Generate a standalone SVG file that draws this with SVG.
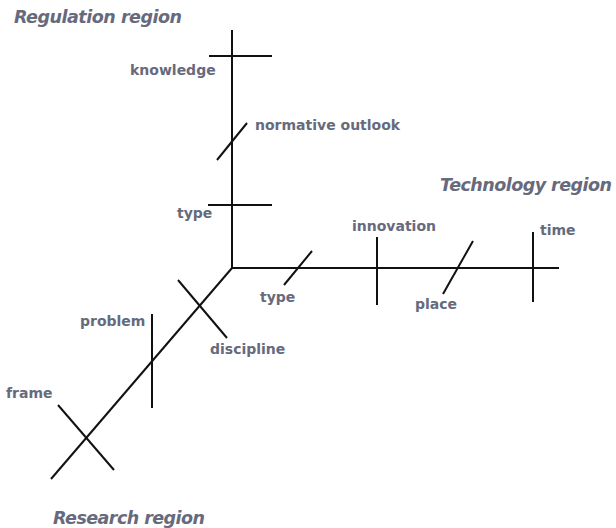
<svg xmlns="http://www.w3.org/2000/svg" width="616" height="528" viewBox="0 0 616 528">
<style>
.ax{stroke:#111;stroke-width:2;fill:none;stroke-linecap:butt}
.lbl{font-family:"DejaVu Sans",Verdana,sans-serif;font-weight:bold;font-size:14px;fill:#666a7c}
.reg{font-family:"DejaVu Sans",Verdana,sans-serif;font-weight:bold;font-style:italic;font-size:17.5px;fill:#666a7c}
</style>
<rect width="616" height="528" fill="#fff"/>
<g id="connectors">
<line class="ax" x1="232" y1="30" x2="232" y2="268"/>
<line class="ax" x1="232" y1="268" x2="559" y2="268"/>
<line class="ax" x1="232" y1="268" x2="51" y2="479"/>
</g>
<g id="regulation-region"><text class="reg" x="14" y="23" textLength="168">Regulation region</text></g>
<g id="knowledge"><line class="ax" x1="209" y1="56" x2="272" y2="56"/><text class="lbl" x="130" y="75">knowledge</text></g>
<g id="normative-outlook"><line class="ax" x1="217" y1="160" x2="247" y2="123"/><text class="lbl" x="255" y="130">normative outlook</text></g>
<g id="type-regulation"><line class="ax" x1="208" y1="205" x2="272" y2="205"/><text class="lbl" x="177" y="218">type</text></g>
<g id="technology-region"><text class="reg" x="440" y="191" textLength="172">Technology region</text></g>
<g id="type-technology"><line class="ax" x1="284" y1="285" x2="312" y2="251"/><text class="lbl" x="260" y="302">type</text></g>
<g id="innovation"><line class="ax" x1="377" y1="237" x2="377" y2="305"/><text class="lbl" x="352" y="231">innovation</text></g>
<g id="place"><line class="ax" x1="443" y1="294" x2="473" y2="241"/><text class="lbl" x="415" y="309">place</text></g>
<g id="time"><line class="ax" x1="533" y1="232" x2="533" y2="302"/><text class="lbl" x="540" y="235">time</text></g>
<g id="discipline"><line class="ax" x1="178" y1="280" x2="227" y2="338"/><text class="lbl" x="210" y="354">discipline</text></g>
<g id="problem"><line class="ax" x1="152" y1="314" x2="152" y2="408"/><text class="lbl" x="80" y="326">problem</text></g>
<g id="frame"><line class="ax" x1="58" y1="405" x2="114" y2="470"/><text class="lbl" x="6" y="398">frame</text></g>
<g id="research-region"><text class="reg" x="53" y="524" textLength="152">Research region</text></g>
</svg>
